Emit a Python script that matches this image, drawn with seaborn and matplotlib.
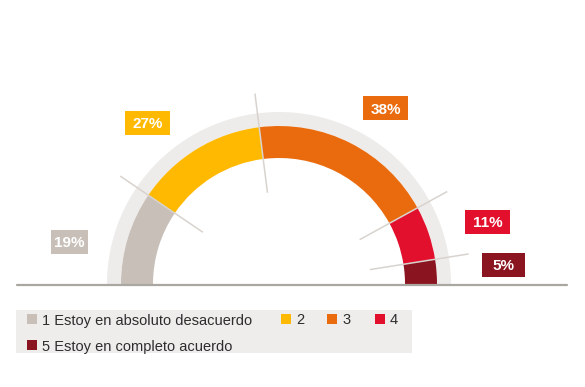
import numpy as np
import matplotlib
matplotlib.use("Agg")
import matplotlib.pyplot as plt
from matplotlib.patches import Rectangle
import seaborn as sns

# data
categories = ["1 Estoy en absoluto desacuerdo", "2", "3", "4", "5 Estoy en completo acuerdo"]
values = [19, 27, 38, 11, 5]
labels = ["19%", "27%", "38%", "11%", "5%"]
palette = ["#c7bfb8", "#ffb900", "#ea6b0d", "#e3102d", "#8a1420"]

sns.set_theme(style="white")
plt.rcParams["font.family"] = ["Liberation Sans", "DejaVu Sans"]

W, H = 585, 387
fig = plt.figure(figsize=(W / 100, H / 100), dpi=100)
ax = fig.add_axes([0, 0, 1, 1])


def py(y):
    # picture rows (top down) -> data y
    return H - y


cx, cy = 279, py(284)
r_out, r_in, r_band = 158, 126, 172

# light band behind the arc
ax.pie([50, 50], radius=r_band, center=(cx, cy), startangle=180, counterclock=False,
       colors=["#eeeceb", "none"], wedgeprops=dict(width=r_band - r_out, linewidth=0))

# the half donut
total = sum(values)
ax.pie(values + [total], radius=r_out, center=(cx, cy), startangle=180, counterclock=False,
       colors=sns.color_palette(palette) + ["none"],
       wedgeprops=dict(width=r_out - r_in, linewidth=0))

# leader lines at segment boundaries
cum = np.cumsum(values)[:-1]
for c in cum:
    ang = np.deg2rad(180 - 180 * c / total)
    ax.plot([cx + 92 * np.cos(ang), cx + 192 * np.cos(ang)],
            [cy + 92 * np.sin(ang), cy + 192 * np.sin(ang)],
            color="#d8d3ce", lw=1.1, solid_capstyle="butt", zorder=5)

# baseline
ax.plot([17, 567], [py(285), py(285)], color="#aaa6a2", lw=1.6, zorder=4)

# value boxes
label_pos = [(69.5, 241.5), (147.5, 122.5), (385.5, 108), (487.5, 221.5), (503.5, 265)]
box_w = [37, 45, 45, 45, 43]
for (x, y), w, lab, col in zip(label_pos, box_w, labels, palette):
    ax.add_patch(Rectangle((x - w / 2, py(y) - 12), w, 24, color=col, lw=0, zorder=6))
    ax.text(x, py(y), lab, color="white", fontsize=11, fontweight="bold",
            ha="center", va="center_baseline", zorder=7)

# legend
ax.add_patch(Rectangle((16, py(353)), 396, 43, color="#efedec", lw=0, zorder=1))
leg_pos = [(32, 319), (286, 319), (332, 319), (380, 319), (32, 345)]
for (x, y), cat, col in zip(leg_pos, categories, palette):
    ax.scatter([x], [py(y)], marker="s", s=48, color=col, linewidths=0, zorder=3)
    ax.text(x + 10, py(y), cat, color="#2d2d2d", fontsize=10.5, ha="left",
            va="center_baseline", zorder=3)

ax.set_xlim(0, W)
ax.set_ylim(0, H)
ax.set_aspect("auto")
ax.axis("off")

fig.savefig("out.png", dpi=100, facecolor="white")
